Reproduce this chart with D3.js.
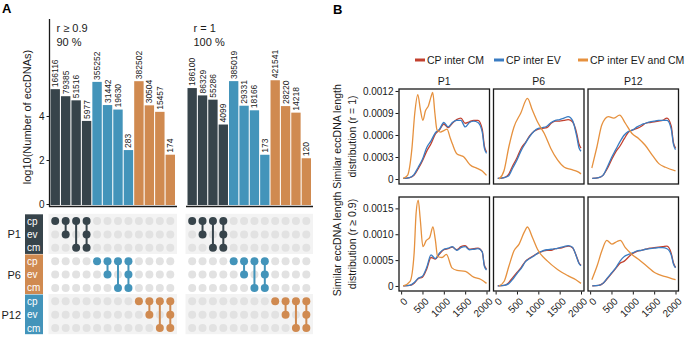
<!DOCTYPE html>
<html>
<head>
<meta charset="utf-8">
<script src="https://cdn.jsdelivr.net/npm/d3@7"></script>
<style>
  body { margin: 0; background: #fff; }
  svg { display: block; font-family: 'Liberation Sans', Arial, sans-serif; }
</style>
</head>
<body>
<div id="chart"></div>
<script>
// ---- Panel A data ----
const countsR09 = [166116, 79385, 51516, 5977, 355252, 31442, 19630, 283, 382502, 30504, 15457, 174]
const countsR1 = [186100, 86329, 55286, 4099, 385019, 29331, 18166, 173, 421541, 28220, 14218, 120]
const barGroups = ['P1', 'P1', 'P1', 'P1', 'P6', 'P6', 'P6', 'P6', 'P12', 'P12', 'P12', 'P12']
const comboMembers = [['cp'], ['cp', 'ev'], ['cp', 'cm'], ['cp', 'ev', 'cm']]
const samples = ['P1', 'P6', 'P12']
const fractions = ['cp', 'ev', 'cm']
const panelTitlesA = [['r \u2265 0.9', '90 %'], ['r = 1', '100 %']]
const yTicksA = [0, 2, 4]

// ---- Panel B data ----
const seriesNames = ['CP inter CM', 'CP inter EV', 'CP inter EV and CM']
const lengthGrid = [50, 200, 300, 400, 500, 600, 700, 800, 900, 1000, 1100, 1200, 1300, 1400, 1500, 1600, 1700, 1800, 1900, 1950, 2000]
const xTicksB = [0, 500, 1000, 1500, 2000]
const yTicksR1 = [0, 0.0003, 0.0006, 0.0009, 0.0012]
const yTicksR09 = [0, 0.0005, 0.0010, 0.0015]

// r = 1, one array per facet (P1, P6, P12)
const cmR1 = [
  [0.00001, 0.00002, 0.00005, 0.00014, 0.00025, 0.00038, 0.00048, 0.00061, 0.00067, 0.00075, 0.0007, 0.00076, 0.00081, 0.00083, 0.00076, 0.00078, 0.0008, 0.0008, 0.00068, 0.00045, 0.00037],
  [0.00001, 0.00002, 0.00006, 0.00018, 0.00029, 0.00042, 0.0005, 0.00059, 0.00065, 0.00068, 0.00069, 0.0007, 0.00076, 0.00079, 0.00079, 0.0008, 0.00081, 0.00078, 0.00062, 0.00048, 0.00042],
  [0.00001, 0.00002, 0.00005, 0.00014, 0.00026, 0.00037, 0.00045, 0.00055, 0.00064, 0.00067, 0.00069, 0.00072, 0.00076, 0.00077, 0.00078, 0.00079, 0.0008, 0.00083, 0.00072, 0.0005, 0.00042]
]
const evR1 = [
  [0.00001, 0.00002, 0.00006, 0.00016, 0.00027, 0.00043, 0.00052, 0.00063, 0.00068, 0.00077, 0.00071, 0.00077, 0.0008, 0.0008, 0.00071, 0.00077, 0.00079, 0.00077, 0.00064, 0.00042, 0.00035],
  [0.00001, 0.00002, 0.00004, 0.00015, 0.00026, 0.00039, 0.00049, 0.00058, 0.00065, 0.00069, 0.0007, 0.00072, 0.00077, 0.0008, 0.00081, 0.00083, 0.00085, 0.0008, 0.00058, 0.00043, 0.00038],
  [0.00001, 0.00002, 0.00005, 0.00016, 0.00029, 0.0004, 0.00051, 0.0006, 0.00065, 0.00067, 0.00071, 0.00074, 0.00076, 0.00078, 0.00079, 0.0008, 0.0008, 0.0008, 0.00068, 0.00048, 0.0004]
]
const bothR1X = [
  [50, 150, 250, 320, 390, 450, 510, 570, 640, 700, 740, 790, 840, 920, 1000, 1075, 1150, 1200, 1310, 1400, 1470, 1550, 1620, 1780, 1900, 2000],
  [80, 200, 310, 430, 590, 745, 860, 980, 1140, 1290, 1450, 1610, 1765, 1920, 2000],
  [40, 160, 275, 430, 550, 690, 825, 980, 1140, 1290, 1450, 1610, 1765, 2000]
]
const bothR1 = [
  [0.00001, 0.00005, 0.0004, 0.0009, 0.00115, 0.00095, 0.0008, 0.00093, 0.001, 0.00112, 0.00118, 0.0009, 0.00067, 0.00064, 0.00066, 0.00068, 0.00056, 0.00048, 0.00034, 0.00032, 0.0003, 0.00024, 0.00019, 0.000145, 0.00011, 0.00005],
  [0, 0.00012, 0.00044, 0.00071, 0.0009, 0.0011, 0.00094, 0.00078, 0.00062, 0.00042, 0.00026, 0.00016, 0.00013, 0.0001, 0.00007],
  [0.00015, 0.00044, 0.00074, 0.00085, 0.00083, 0.00087, 0.00076, 0.00062, 0.00055, 0.00046, 0.00033, 0.00021, 0.00016, 0.00011]
]

// r >= 0.9
const cmR09 = [
  [0, 0.00001, 0.00005, 0.00014, 0.00017, 0.00033, 0.00055, 0.00052, 0.00062, 0.0007, 0.00072, 0.00075, 0.0007, 0.00076, 0.00078, 0.00071, 0.00072, 0.00073, 0.00066, 0.0004, 0.00033],
  [0, 0.00001, 0.00006, 0.00016, 0.00026, 0.00036, 0.00048, 0.00054, 0.00059, 0.00064, 0.00067, 0.00069, 0.00069, 0.00072, 0.00073, 0.00075, 0.00077, 0.00074, 0.00056, 0.00045, 0.0004],
  [0, 0.00001, 0.00005, 0.00014, 0.00024, 0.00034, 0.00044, 0.00048, 0.00056, 0.00063, 0.00067, 0.00069, 0.00071, 0.00073, 0.00074, 0.00075, 0.00076, 0.00077, 0.00063, 0.00045, 0.00036]
]
const evR09 = [
  [0, 0.00001, 0.00006, 0.00015, 0.00019, 0.00036, 0.0006, 0.00053, 0.00064, 0.00071, 0.00073, 0.00076, 0.00069, 0.00074, 0.00076, 0.0007, 0.00071, 0.00072, 0.00066, 0.00038, 0.00031],
  [0, 0.00001, 0.00004, 0.00013, 0.00024, 0.00034, 0.00047, 0.00053, 0.00058, 0.00064, 0.00068, 0.0007, 0.00071, 0.00072, 0.00074, 0.00076, 0.00078, 0.00075, 0.00055, 0.00044, 0.00039],
  [0, 0.00001, 0.00005, 0.00015, 0.00025, 0.00035, 0.00048, 0.00057, 0.00061, 0.00064, 0.00068, 0.00069, 0.00071, 0.00072, 0.00073, 0.00074, 0.00074, 0.00072, 0.0006, 0.00043, 0.00035]
]
const bothR09X = [
  [50, 210, 305, 350, 400, 447, 510, 590, 670, 745, 800, 855, 957, 1060, 1190, 1310, 1505, 1700, 1860, 2000],
  [80, 200, 310, 430, 550, 670, 745, 860, 980, 1215, 1450, 1690, 1880, 2000],
  [40, 160, 275, 390, 510, 630, 705, 825, 980, 1140, 1290, 1530, 1765, 2000]
]
const bothR09 = [
  [0, 0.00009, 0.00064, 0.0014, 0.00166, 0.0013, 0.00076, 0.00088, 0.00094, 0.00114, 0.0009, 0.00057, 0.00055, 0.00061, 0.00035, 0.0003, 0.00028, 0.00017, 0.00013, 0.00005],
  [0, 0.00009, 0.00038, 0.00068, 0.00081, 0.00104, 0.00114, 0.00094, 0.00071, 0.00048, 0.00032, 0.0002, 0.00012, 0.00005],
  [0.00012, 0.00038, 0.00068, 0.00088, 0.00081, 0.00086, 0.00088, 0.00074, 0.00061, 0.00051, 0.00041, 0.00025, 0.00018, 0.00012]
]

function draw() {
  const width = 685
  const height = 337
  const ink = '#1a1a1a'
  const groupColor = { P1: '#37444b', P6: '#4394ba', P12: '#d08a50' }
  const labelBoxColor = { P1: '#37444b', P6: '#d08a50', P12: '#4394ba' }
  const lineColors = ['#c2402e', '#3a7cc2', '#e6913e']

  const svg = d3.select('#chart')
    .append('svg')
    .attr('width', width)
    .attr('height', height)

  // ================= Panel A =================
  svg.append('text').attr('x', 2).attr('y', 13)
    .attr('font-size', 13).attr('font-weight', 'bold').text('A')

  const yA = d3.scaleLinear().domain([0, 4]).range([204, 116])
  const panelRanges = [[50.5, 175], [187.5, 311]]
  const panelData = [countsR09, countsR1]

  // y axis (left panel only)
  const yAxisA = svg.append('g')
    .attr('transform', 'translate(49.5,0)')
    .call(d3.axisLeft(yA).tickValues(yTicksA).tickSize(3).tickPadding(2).tickFormat(d3.format('d')))
  yAxisA.select('.domain').remove()
  yAxisA.selectAll('text').attr('font-size', 10).attr('fill', ink)
  yAxisA.selectAll('line').attr('stroke', ink)
  svg.append('line')
    .attr('x1', 49.5).attr('x2', 49.5).attr('y1', 19).attr('y2', 207)
    .attr('stroke', ink).attr('stroke-width', 1.3)

  svg.append('text')
    .attr('transform', 'translate(31,117) rotate(-90)')
    .attr('text-anchor', 'middle')
    .attr('font-size', 11).attr('fill', ink)
    .text('log10(Number of eccDNAs)')

  const rowKeys = []
  samples.forEach(s => fractions.forEach(f => rowKeys.push(s + ' ' + f)))
  const yRow = d3.scalePoint().domain(rowKeys).range([221, 328])
  const rowStep = yRow.step()

  panelData.forEach((counts, p) => {
    const x = d3.scaleBand()
      .domain(d3.range(counts.length))
      .range(panelRanges[p])
      .paddingInner(0.1)
    const g = svg.append('g')

    // bars
    g.selectAll('rect.bar')
      .data(counts)
      .join('rect')
      .attr('class', 'bar')
      .attr('x', (d, i) => x(i))
      .attr('width', x.bandwidth())
      .attr('y', d => yA(Math.log10(d)))
      .attr('height', d => yA(0) - yA(Math.log10(d)) + 1)
      .attr('fill', (d, i) => groupColor[barGroups[i]])

    // bar value labels
    g.selectAll('text.val')
      .data(counts)
      .join('text')
      .attr('class', 'val')
      .attr('transform', (d, i) =>
        `translate(${x(i) + x.bandwidth() / 2 + 3},${yA(Math.log10(d)) - 2}) rotate(-90)`)
      .attr('font-size', 8.5)
      .attr('fill', ink)
      .text(d => d)

    // baseline
    g.append('line')
      .attr('x1', panelRanges[p][0] - 1.5).attr('x2', panelRanges[p][1] + 2)
      .attr('y1', 206.5).attr('y2', 206.5)
      .attr('stroke', ink).attr('stroke-width', 1.5)

    // title
    const title = g.append('text')
      .attr('x', x(0) + 6).attr('y', 32)
      .attr('font-size', 11).attr('fill', ink)
    title.append('tspan').attr('x', x(0) + 6).attr('dy', 0).text(panelTitlesA[p][0])
    title.append('tspan').attr('x', x(0) + 6).attr('dy', 13.5).text(panelTitlesA[p][1])

    // matrix background bands (P1 and P12 shaded)
    samples.forEach((s, si) => {
      if (si === 1) return
      g.append('rect')
        .attr('x', panelRanges[p][0] - 2)
        .attr('width', panelRanges[p][1] - panelRanges[p][0] + 4)
        .attr('y', yRow(s + ' cp') - rowStep / 2 - 0.5)
        .attr('height', rowStep * 3)
        .attr('fill', '#f3f3f3')
    })

    // matrix dots
    const cells = []
    counts.forEach((c, i) => {
      const grp = barGroups[i]
      const members = comboMembers[i % 4]
      rowKeys.forEach(r => {
        const [s, f] = r.split(' ')
        cells.push({ i, r, on: s === grp && members.includes(f), grp })
      })
    })
    const links = counts.map((c, i) => {
      const members = comboMembers[i % 4]
      return {
        i, grp: barGroups[i],
        y1: yRow(barGroups[i] + ' ' + members[0]),
        y2: yRow(barGroups[i] + ' ' + members[members.length - 1])
      }
    })
    g.selectAll('circle.off')
      .data(cells.filter(d => !d.on))
      .join('circle')
      .attr('cx', d => x(d.i) + x.bandwidth() / 2)
      .attr('cy', d => yRow(d.r))
      .attr('r', 4)
      .attr('fill', '#e2e2e2')
    g.selectAll('line.link')
      .data(links.filter(d => d.y1 !== d.y2))
      .join('line')
      .attr('x1', d => x(d.i) + x.bandwidth() / 2)
      .attr('x2', d => x(d.i) + x.bandwidth() / 2)
      .attr('y1', d => d.y1).attr('y2', d => d.y2)
      .attr('stroke', d => groupColor[d.grp])
      .attr('stroke-width', 2)
    g.selectAll('circle.on')
      .data(cells.filter(d => d.on))
      .join('circle')
      .attr('cx', d => x(d.i) + x.bandwidth() / 2)
      .attr('cy', d => yRow(d.r))
      .attr('r', 4)
      .attr('fill', d => groupColor[d.grp])
  })

  // row labels of the matrix
  samples.forEach(s => {
    const top = yRow(s + ' cp') - rowStep / 2
    svg.append('rect')
      .attr('x', 25).attr('width', 18)
      .attr('y', top).attr('height', rowStep * 3 - 0.5)
      .attr('fill', labelBoxColor[s])
    fractions.forEach(f => {
      svg.append('text')
        .attr('x', 27).attr('y', yRow(s + ' ' + f) + 3.5)
        .attr('font-size', 10).attr('fill', '#fff')
        .text(f)
    })
    svg.append('text')
      .attr('x', 21).attr('y', yRow(s + ' ev') + 4)
      .attr('text-anchor', 'end')
      .attr('font-size', 11).attr('fill', ink)
      .text(s)
  })

  // ================= Panel B =================
  svg.append('text').attr('x', 333).attr('y', 14)
    .attr('font-size', 13).attr('font-weight', 'bold').text('B')

  const facetLefts = [399, 493.5, 588]
  const facetWidth = 90.5
  const rows = [
    { top: 89, bottom: 184, domain: [-0.000068, 0.001227], ticks: yTicksR1,
      cm: cmR1, ev: evR1, bothX: bothR1X, both: bothR1,
      title: ['Similar eccDNA length', 'distribution (r = 1)'] },
    { top: 197, bottom: 291, domain: [-0.0000974, 0.00172], ticks: yTicksR09,
      cm: cmR09, ev: evR09, bothX: bothR09X, both: bothR09,
      title: ['Similar eccDNA length', 'distribution (r \u2265 0.9)'] }
  ]

  // legend
  const legend = svg.append('g').attr('transform', 'translate(0,60)')
  const legendX = [415, 494, 578]
  seriesNames.forEach((name, i) => {
    legend.append('line')
      .attr('x1', legendX[i]).attr('x2', legendX[i] + 10)
      .attr('stroke', lineColors[i]).attr('stroke-width', 3)
    legend.append('text')
      .attr('x', legendX[i] + 12).attr('y', 3.8)
      .attr('font-size', 10.5).attr('fill', ink)
      .text(name)
  })

  // strip labels
  samples.forEach((s, c) => {
    svg.append('text')
      .attr('x', facetLefts[c] + facetWidth / 2).attr('y', 85)
      .attr('text-anchor', 'middle')
      .attr('font-size', 10.5).attr('fill', ink)
      .text(s)
  })

  rows.forEach((row, r) => {
    const y = d3.scaleLinear().domain(row.domain).range([row.bottom, row.top])

    // y axis title (two lines)
    const mid = (row.top + row.bottom) / 2
    row.title.forEach((t, k) => {
      svg.append('text')
        .attr('transform', `translate(${341 + k * 15},${mid}) rotate(-90)`)
        .attr('text-anchor', 'middle')
        .attr('font-size', 10.5).attr('fill', ink)
        .text(t)
    })

    const yAxis = svg.append('g')
      .attr('transform', `translate(${facetLefts[0] - 0.5},0)`)
      .call(d3.axisLeft(y).tickValues(row.ticks).tickSize(3).tickPadding(2)
        .tickFormat(d => d === 0 ? '0' : d3.format('.4f')(d)))
    yAxis.select('.domain').remove()
    yAxis.selectAll('text').attr('font-size', 10).attr('fill', ink)
    yAxis.selectAll('line').attr('stroke', ink)

    samples.forEach((s, c) => {
      const x = d3.scaleLinear().domain([-50, 2070]).range([facetLefts[c], facetLefts[c] + facetWidth])
      const g = svg.append('g')

      const line = d3.line()
        .x(d => x(d[0]))
        .y(d => y(d[1]))
        .curve(d3.curveMonotoneX)

      const series = [
        lengthGrid.map((v, k) => [v, row.cm[c][k]]),
        lengthGrid.map((v, k) => [v, row.ev[c][k]]),
        row.bothX[c].map((v, k) => [v, row.both[c][k]])
      ]
      g.selectAll('path.curve')
        .data(series)
        .join('path')
        .attr('class', 'curve')
        .attr('d', line)
        .attr('fill', 'none')
        .attr('stroke', (d, i) => lineColors[i])
        .attr('stroke-width', 1.3)

      g.append('rect')
        .attr('x', facetLefts[c]).attr('y', row.top)
        .attr('width', facetWidth).attr('height', row.bottom - row.top)
        .attr('fill', 'none').attr('stroke', ink).attr('stroke-width', 1.3)

      if (r === 1) {
        const xAxis = g.append('g')
          .attr('transform', `translate(0,${row.bottom + 0.5})`)
          .call(d3.axisBottom(x).tickValues(xTicksB).tickSize(3).tickPadding(2).tickFormat(d3.format('d')))
        xAxis.select('.domain').remove()
        xAxis.selectAll('line').attr('stroke', ink)
        xAxis.selectAll('text')
          .attr('font-size', 10).attr('fill', ink)
          .attr('text-anchor', 'end')
          .attr('dy', 0)
          .attr('transform', 'translate(3,7) rotate(-45)')
      }
    })
  })
}

draw()
</script>
</body>
</html>
